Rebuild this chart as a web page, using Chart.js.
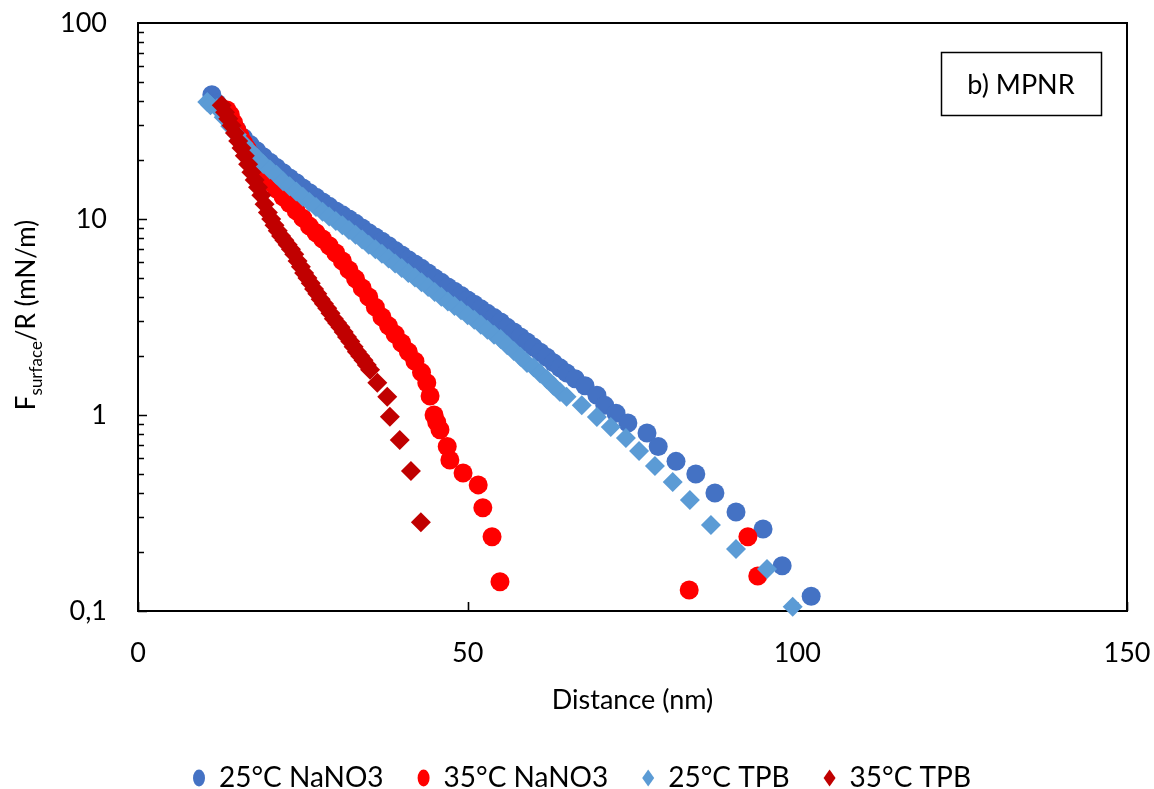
<!DOCTYPE html>
<html><head><meta charset="utf-8">
<script src="https://cdn.jsdelivr.net/npm/chart.js@4.4.1/dist/chart.umd.min.js"></script>
<style>html,body{margin:0;padding:0;background:#fff}#wrap{width:1154px;height:789px}</style>
</head><body><div id="wrap"><canvas id="c" width="1154" height="789"></canvas></div>
<script>
// ---- data ----
const seriesNames = ['25°C NaNO3', '35°C NaNO3', '25°C TPB', '35°C TPB'];

const nano25X = [11.2,12,13,14,15,16,17,18,19,20,21,22,23,24,25,26,27,28,29,30,31,32,33,34,35,36,37,38,39,40,41,42,43,44,45,46,47,48,49,50,51,52,53,54,55,56,57,58,59,60,61,62,63,64,65,66.3,67.8,69.6,70.8,72.5,74.3,77.2,78.9,81.6,84.6,87.5,90.7,94.8,97.7,102.1];
const nano25Y = [43,39,35,31.5,28.5,26,24,22.3,20.8,19.5,18.3,17.2,16.2,15.3,14.4,13.6,12.9,12.2,11.6,11.0,10.5,10.0,9.5,9.0,8.5,8.1,7.7,7.3,6.9,6.55,6.2,5.9,5.6,5.3,5.0,4.75,4.5,4.28,4.07,3.86,3.67,3.48,3.3,3.14,2.98,2.8,2.65,2.5,2.36,2.22,2.09,1.97,1.85,1.74,1.64,1.53,1.41,1.26,1.12,1.02,0.91,0.81,0.69,0.58,0.50,0.40,0.32,0.262,0.17,0.119];

const nano35X = [13.5,14,14.5,15,15.5,16,16.5,17,17.5,18,18.5,19,19.5,20,21,22,23,24,25,26,27,28,29,30,31,32,33,34,35,36,37,38,39,40,41,42,43,43.8,44.3,44.9,45.3,45.8,46.9,47.3,49.3,51.6,52.3,53.7,54.9,83.6,92.5,94.0];
const nano35Y = [36,34,31,28.5,26.5,24.5,23,21.5,20.3,19.2,18.2,17.3,16.4,15.5,14.2,13.0,12.0,11.0,10.1,9.2,8.5,7.9,7.3,6.7,6.1,5.5,4.95,4.45,4.0,3.55,3.16,2.85,2.58,2.33,2.1,1.88,1.65,1.46,1.25,1.0,0.92,0.84,0.69,0.59,0.506,0.44,0.336,0.239,0.141,0.128,0.239,0.151];

const tpb25X = [10.5,11,12,13,14,15,16,17,18,19,20,21,22,23,24,25,26,27,28,29,30,31,32,33,34,35,36,37,38,39,40,41,42,43,44,45,46,47,48,49,50,51,52,53,54,55,56,57,58,59,60,61,62,63,64,65,67.3,69.6,71.7,74.0,76.0,78.4,81.1,83.7,86.9,90.7,95.4,99.3];
const tpb25Y = [39.5,38,36.8,33,29.7,26.9,24.3,22.3,20.6,19.1,17.9,16.8,15.6,14.7,13.8,13.0,12.2,11.5,10.9,10.3,9.78,9.3,8.8,8.3,7.85,7.38,7.0,6.64,6.28,5.93,5.62,5.3,5.03,4.76,4.5,4.24,4.01,3.79,3.6,3.42,3.23,3.06,2.89,2.72,2.57,2.44,2.27,2.12,1.98,1.84,1.75,1.63,1.52,1.41,1.31,1.24,1.12,0.977,0.869,0.764,0.655,0.549,0.455,0.368,0.275,0.207,0.164,0.105];

const tpb35X = [12.7,13.2,13.7,14.2,14.7,15.2,15.7,16.2,16.7,17.2,17.7,18.2,18.7,19.2,19.7,20.2,20.7,21.2,21.7,22.2,22.7,23.2,23.7,24.2,24.7,25.2,25.7,26.2,26.7,27.2,27.7,28.2,28.7,29.2,29.7,30.2,30.7,31.2,31.7,32.2,32.7,33.2,33.7,34.2,34.7,35.2,36.3,37.8,38.2,39.7,41.4,42.9];
const tpb35Y = [38,35,32.5,30,27.5,25,23,21,19,17.3,15.8,14.5,13.2,11.9,10.8,10.0,9.3,8.7,8.2,7.8,7.4,7.0,6.6,6.1,5.7,5.3,5.0,4.7,4.4,4.15,3.9,3.7,3.5,3.3,3.1,2.95,2.8,2.65,2.5,2.37,2.23,2.1,2.0,1.9,1.8,1.7,1.46,1.24,0.98,0.745,0.518,0.284];

const xTickValues = [0, 50, 100, 150];
const yTickValues = [0.1, 1, 10, 100];
const yTickLabels = ['0,1', '1', '10', '100'];
const xTitle = 'Distance (nm)';
const yTitleMain = 'F', yTitleSub = 'surface', yTitleRest = '/R (mN/m)';
const panelLabel = 'b) MPNR';

// ---- chart ----
const FONT = 'Lato';
const pts = (xs, ys) => xs.map((x, i) => ({x, y: ys[i]}));

function ds(label, xs, ys, color, style, r, order) {
  return {label, data: pts(xs, ys), backgroundColor: color, borderColor: color,
    pointBackgroundColor: color, pointBorderColor: color, pointBorderWidth: 0, borderWidth: 0,
    pointStyle: style, pointRadius: r, pointHoverRadius: r, showLine: false, clip: false, order};
}

const decor = {
  id: 'decor',
  beforeDatasetsDraw(chart) {
    const {ctx, chartArea: a, scales: {x, y}} = chart;
    ctx.save();
    ctx.strokeStyle = '#000'; ctx.lineWidth = 2;
    ctx.strokeRect(a.left, a.top, a.right - a.left, a.bottom - a.top);
    ctx.beginPath();
    for (let e = -1; e <= 1; e++) {
      for (let m = 1; m <= 9; m++) {
        const v = m * Math.pow(10, e);
        const py = Math.round(y.getPixelForValue(v)) + 0.5;
        const len = m === 1 ? 9 : 6;
        ctx.moveTo(a.left, py); ctx.lineTo(a.left + len, py);
      }
    }
    xTickValues.forEach(v => {
      const px = Math.round(x.getPixelForValue(v)) + 0.5;
      ctx.moveTo(px, a.bottom); ctx.lineTo(px, a.bottom - 9);
    });
    ctx.lineWidth = 1.6;
    ctx.stroke();
    ctx.restore();
  },
  afterDraw(chart) {
    const {ctx} = chart;
    ctx.save();
    ctx.strokeStyle = '#000'; ctx.lineWidth = 1.5;
    ctx.strokeRect(941.5, 52.5, 160, 63);
    ctx.fillStyle = '#000'; ctx.font = `27px ${FONT}`;
    ctx.textAlign = 'center'; ctx.textBaseline = 'middle';
    ctx.fillText(panelLabel, 1021, 85);
    ctx.translate(35, 315); ctx.rotate(-Math.PI / 2);
    ctx.textAlign = 'left'; ctx.textBaseline = 'alphabetic';
    ctx.font = `26px ${FONT}`; const wF = ctx.measureText(yTitleMain).width;
    const wR = ctx.measureText(yTitleRest).width;
    ctx.font = `17px ${FONT}`; const wS = ctx.measureText(yTitleSub).width;
    let cx = -(wF + wS + wR) / 2;
    ctx.font = `26px ${FONT}`; ctx.fillText(yTitleMain, cx, 0); cx += wF;
    ctx.font = `17px ${FONT}`; ctx.fillText(yTitleSub, cx, 7); cx += wS;
    ctx.font = `26px ${FONT}`; ctx.fillText(yTitleRest, cx, 0);
    ctx.restore();
  }
};

new Chart(document.getElementById('c'), {
  type: 'scatter',
  data: {datasets: [
    ds(seriesNames[0], nano25X, nano25Y, '#4472C4', 'circle', 9.5, 4),
    ds(seriesNames[1], nano35X, nano35Y, '#FF0000', 'circle', 9.5, 3),
    ds(seriesNames[2], tpb25X, tpb25Y, '#5B9BD5', 'rectRot', 10, 2),
    ds(seriesNames[3], tpb35X, tpb35Y, '#C00000', 'rectRot', 10, 1)
  ]},
  options: {
    responsive: false, animation: false,
    layout: {padding: {left: 37, right: 27, top: 23, bottom: -13}},
    plugins: {
      legend: {position: 'bottom', labels: {usePointStyle: true, pointStyleWidth: 12, boxWidth: 12, boxHeight: 12, padding: 34,
        color: '#000', font: {family: FONT, size: 28},
        sort: (a, b) => a.datasetIndex - b.datasetIndex}},
      tooltip: {enabled: false}
    },
    scales: {
      x: {type: 'linear', min: 0, max: 150,
        afterBuildTicks: s => { s.ticks = xTickValues.map(v => ({value: v})); },
        afterFit: s => { s.height = 119; s.paddingLeft = 0; s.paddingRight = 0; },
        grid: {display: false, drawTicks: false}, border: {display: false},
        ticks: {color: '#000', font: {family: FONT, size: 27}, padding: 26, maxRotation: 0},
        title: {display: true, text: xTitle, color: '#000', font: {family: FONT, size: 27}, padding: {top: 0, bottom: 14}}},
      y: {type: 'logarithmic', min: 0.1, max: 100,
        afterBuildTicks: s => { s.ticks = yTickValues.map(v => ({value: v})); },
        afterFit: s => { s.width = 101; s.paddingTop = 0; s.paddingBottom = 0; },
        grid: {display: false, drawTicks: false}, border: {display: false},
        ticks: {color: '#000', font: {family: FONT, size: 27}, padding: 31,
          callback: (v, i) => yTickLabels[yTickValues.indexOf(v)] ?? ''}}
    }
  },
  plugins: [decor]
});
</script></body></html>
